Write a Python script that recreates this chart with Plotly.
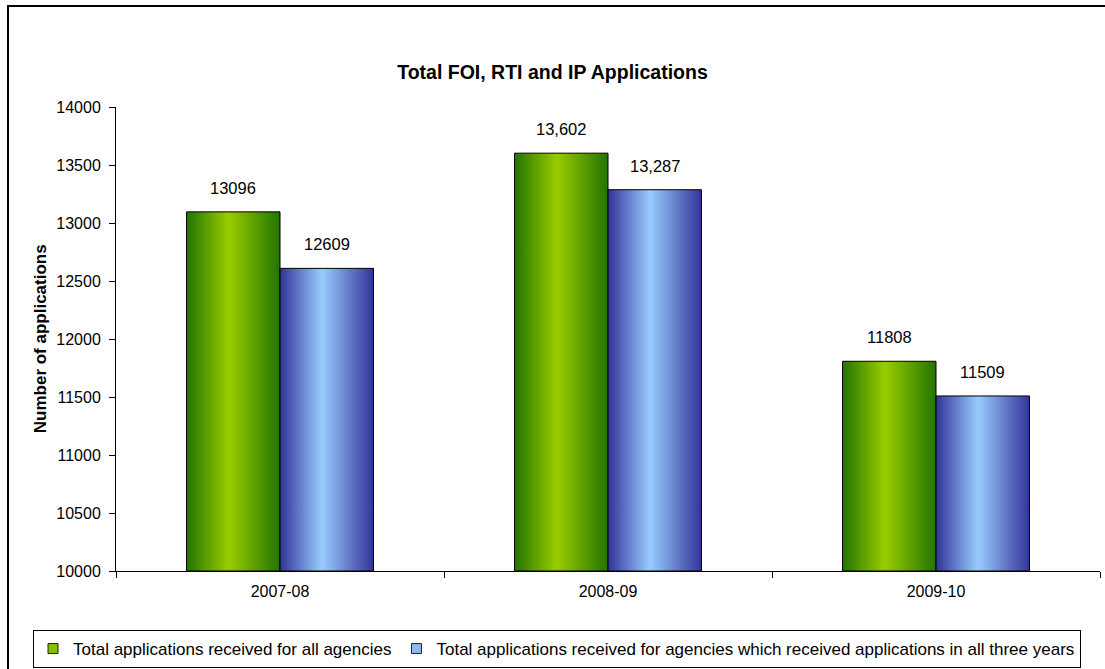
import plotly.graph_objects as go

categories = ["2007-08", "2008-09", "2009-10"]
all_agencies = [13096, 13602, 11808]
three_years = [12609, 13287, 11509]
labels_all = ["13096", "13,602", "11808"]
labels_three = ["12609", "13,287", "11509"]
series_names = [
    "Total applications received for all agencies",
    "Total applications received for agencies which received applications in all three years",
]

FONT = "Liberation Sans, Arial, sans-serif"
BASE = 10000
BAR_W = 0.285

green_scale = [[0, "#237400"], [0.45, "#99cc00"], [1, "#237400"]]
blue_scale = [[0, "#333399"], [0.45, "#99ccff"], [1, "#333399"]]
legend_colors = ["#86c000", "#8db9f2"]

fig = go.Figure()

series = [
    (all_agencies, labels_all, series_names[0], green_scale, -BAR_W, "g", legend_colors[0]),
    (three_years, labels_three, series_names[1], blue_scale, 0.0, "b", legend_colors[1]),
]

annotations = []
for values, labels, name, scale, off, grp, lcol in series:
    for i, v in enumerate(values):
        left = i + off
        right = left + BAR_W
        fig.add_trace(go.Scatter(
            x=[left, left, right, right, left],
            y=[BASE, v, v, BASE, BASE],
            mode="lines",
            fill="toself",
            fillgradient=dict(type="horizontal", colorscale=scale),
            line=dict(color="black", width=1),
            name=name,
            legendgroup=grp,
            showlegend=False,
            hoverinfo="skip",
        ))
        annotations.append(dict(
            x=left + BAR_W / 2, y=v, xref="x", yref="y",
            text=labels[i], showarrow=False, yshift=24,
            font=dict(family=FONT, size=16.5, color="black"),
        ))
    # legend entry (square swatch like the original)
    fig.add_trace(go.Scatter(
        x=[None], y=[None], mode="markers", name=name, legendgroup=grp,
        marker=dict(symbol="square", size=10, color=lcol,
                    line=dict(color="#222222", width=1)),
        showlegend=True, hoverinfo="skip",
    ))

# y-axis title
annotations.append(dict(
    x=-0.077, y=0.5, xref="paper", yref="paper", xanchor="center", yanchor="middle",
    text="<b>Number of applications</b>", textangle=-90, showarrow=False,
    font=dict(family=FONT, size=17, color="black"),
))

fig.update_layout(
    width=1105, height=669,
    margin=dict(l=116, r=5, t=107, b=98, autoexpand=False),
    paper_bgcolor="white", plot_bgcolor="white",
    font=dict(family=FONT, size=16, color="black"),
    title=dict(
        text="<b>Total FOI, RTI and IP Applications</b>",
        x=0.5, xref="container", xanchor="center",
        y=1 - 72 / 669, yref="container", yanchor="middle",
        font=dict(family=FONT, size=19.5, color="black"),
    ),
    xaxis=dict(
        type="linear", range=[-0.5, 2.5],
        tickvals=[0, 1, 2], ticktext=categories, ticks="",
        showline=True, linecolor="black", linewidth=1,
        showgrid=False, zeroline=False, automargin=False,
        ticklabelstandoff=6,
        tickfont=dict(family=FONT, size=16, color="black"),
        minor=dict(tickvals=[-0.5, 0.5, 1.5, 2.5], ticks="outside",
                   ticklen=6, tickcolor="black", showgrid=False),
    ),
    yaxis=dict(
        range=[10000, 14000], dtick=500, tick0=10000, tickformat="d",
        showline=True, linecolor="black", linewidth=1,
        ticks="outside", ticklen=6, tickcolor="black",
        showgrid=False, zeroline=False, automargin=False,
        ticklabelstandoff=5,
        tickfont=dict(family=FONT, size=16, color="black"),
    ),
    legend=dict(
        orientation="h", x=(33 - 116) / 984, xanchor="left",
        y=(571 - 630) / 464, yanchor="top",
        bordercolor="black", borderwidth=1,
        font=dict(family=FONT, size=17, color="black"),
        itemwidth=30, tracegroupgap=0,
    ),
    annotations=annotations,
    shapes=[dict(
        type="rect", xref="paper", yref="paper",
        x0=(8 - 116) / 984, x1=1.05,
        y0=-0.3, y1=1 + (107 - 6) / 464,
        line=dict(color="black", width=2), fillcolor="rgba(0,0,0,0)",
        layer="below",
    )],
)

fig.write_html("out.html", config={"displayModeBar": False},
               post_script="document.body.style.margin='0';")
